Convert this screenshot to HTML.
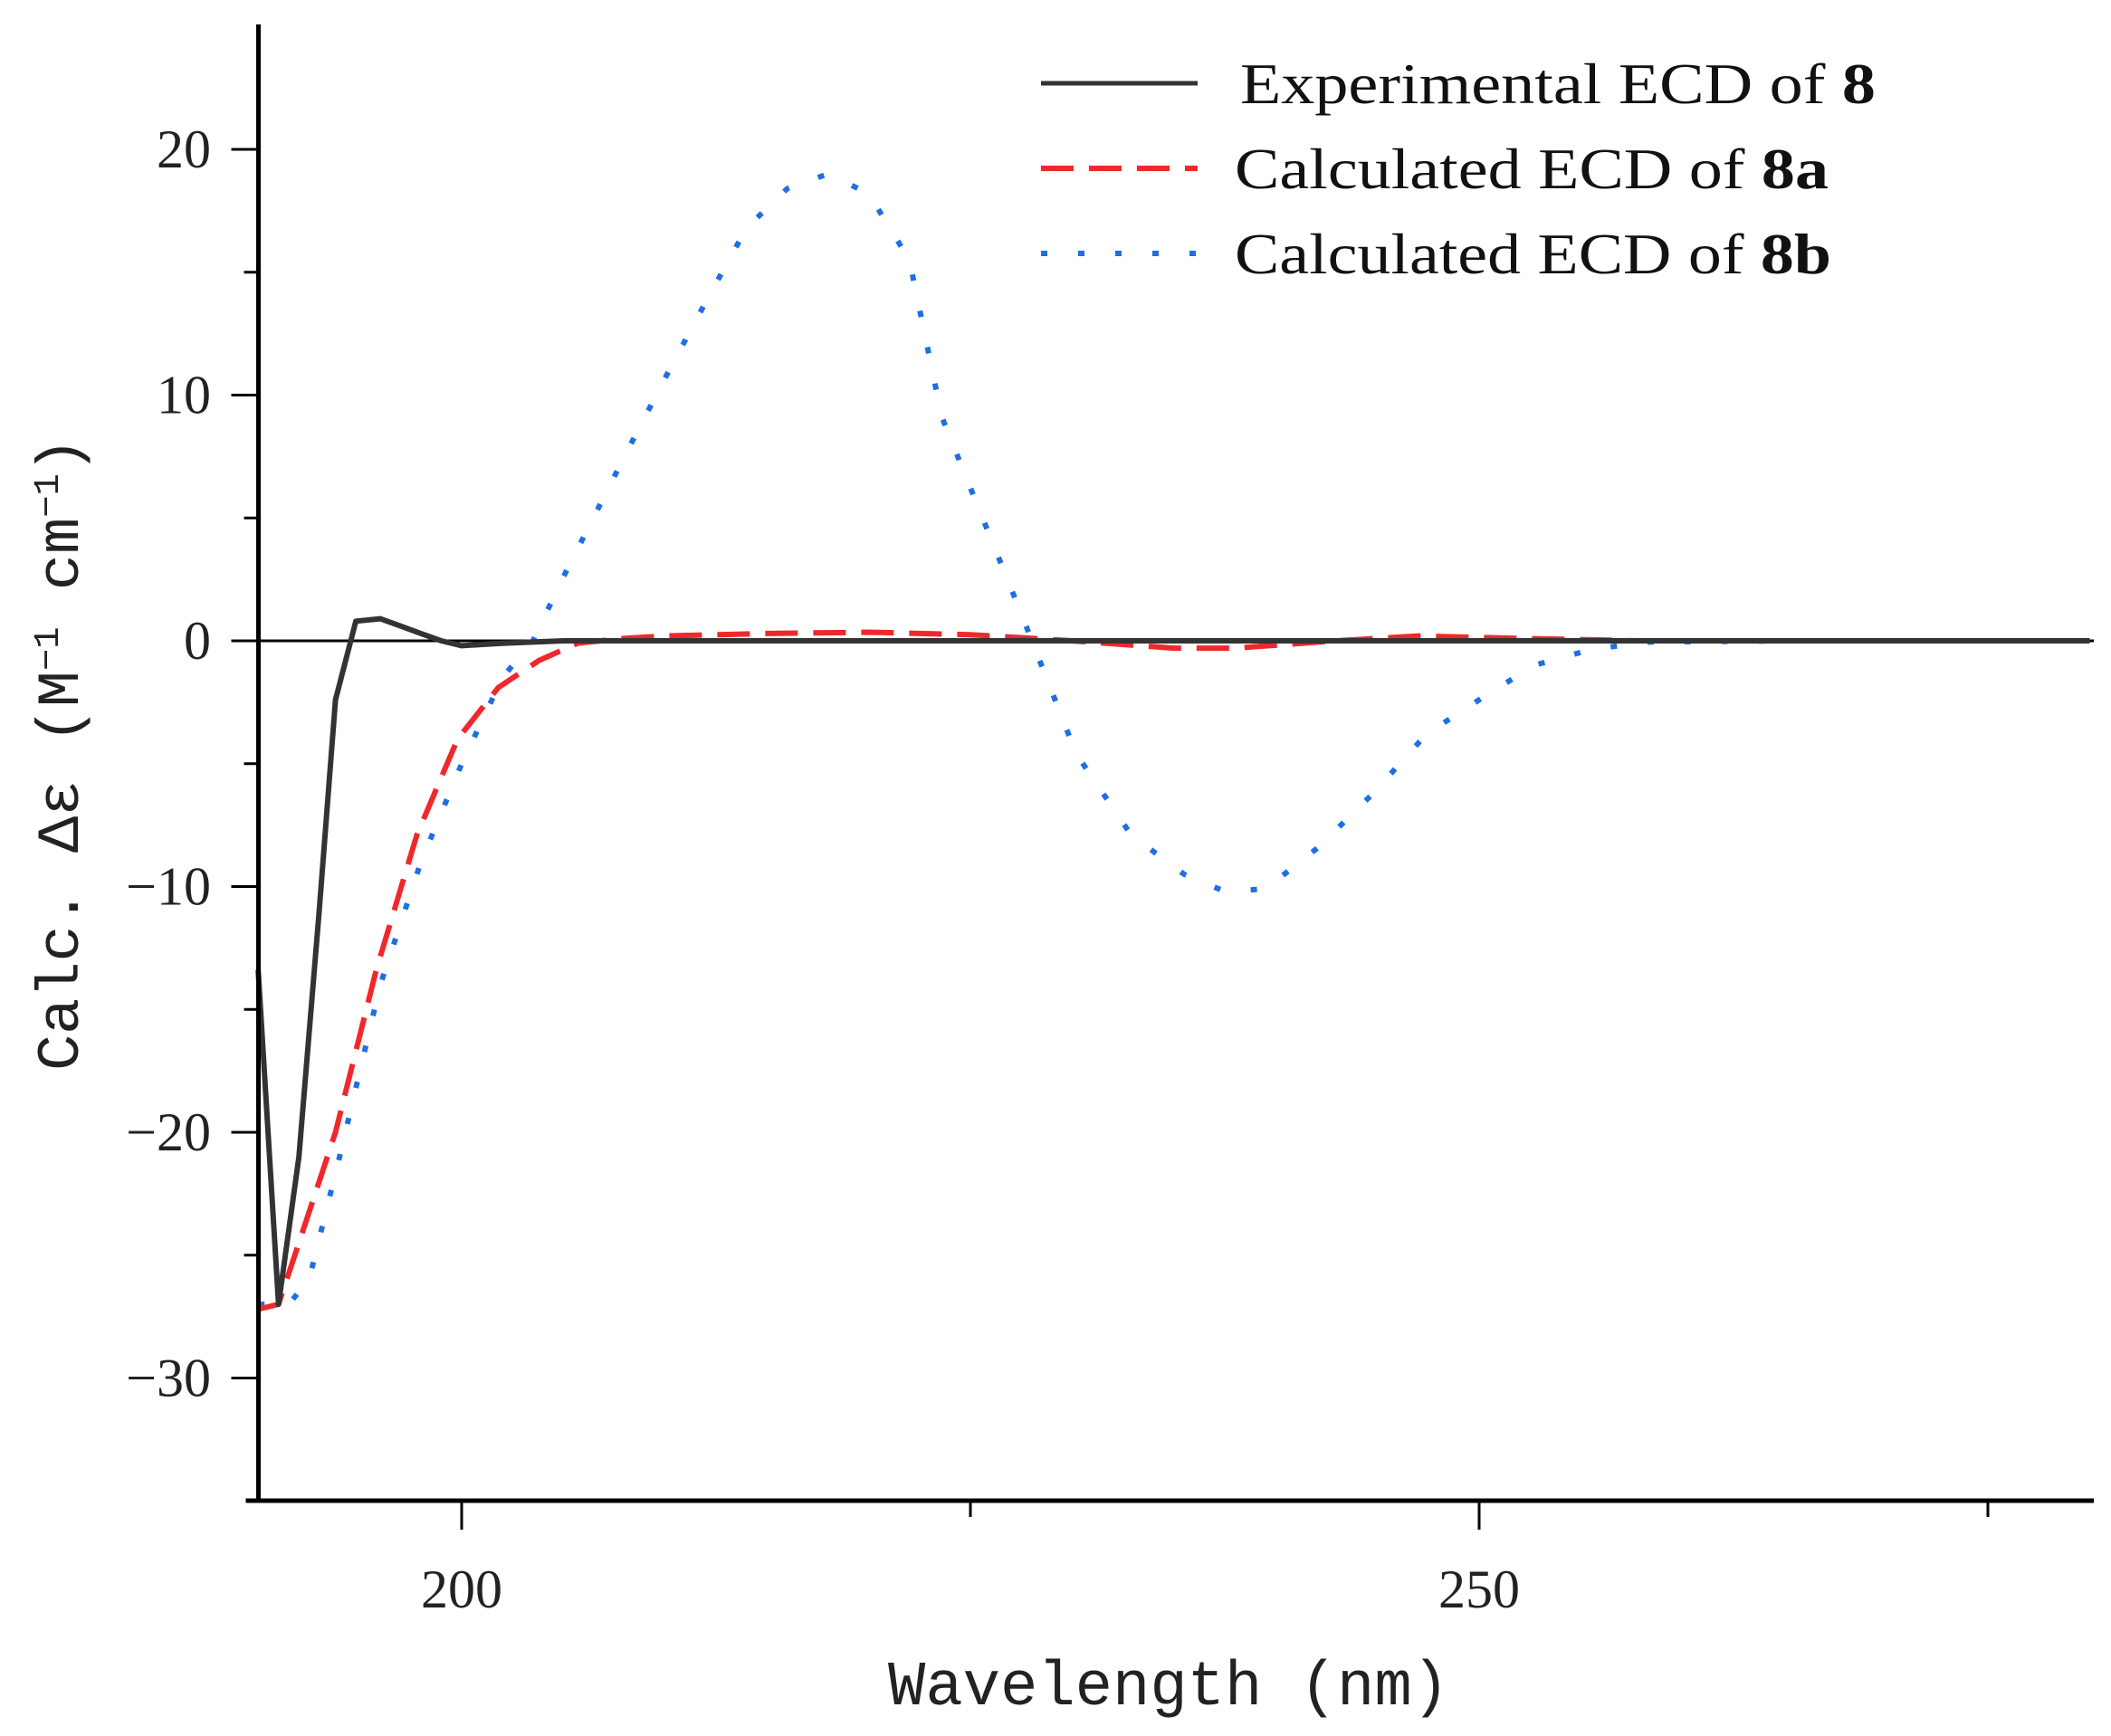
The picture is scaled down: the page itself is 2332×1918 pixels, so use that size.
<!DOCTYPE html>
<html><head><meta charset="utf-8"><style>
html,body{margin:0;padding:0;background:#fff;}
svg{display:block;}
</style></head><body>
<svg id="chart" width="2332" height="1918" viewBox="0 0 2332 1918" xmlns="http://www.w3.org/2000/svg">
<g id="plot"></g>
</svg>
<script>
const expX=[190,191,192,193,193.8,194.8,196,197,198,199,200,202,205,210,220,240,260,280];
const expY=[-13.4,-27,-21,-11,-2.4,0.8,0.9,0.6,0.3,0,-0.2,-0.1,0,0,0,0,0,0];
const aX=[190,191,192,193.8,195.8,197.8,199.8,201.8,203.8,205.7,208,210,215,220,225,230,235,238,243,247,252,258,270,280];
const aY=[-27.2,-27,-24.5,-20,-13.4,-7.9,-4,-1.9,-0.8,-0.1,0.1,0.2,0.3,0.35,0.25,0,-0.3,-0.3,0,0.2,0.1,0,0,0];
const bX=[190,191.5,192.5,194,196,198,200,202,203.5,205,208,210,212,214,216,218,220,222,223.6,227.6,230.2,232.9,235.5,237.5,239.5,242.1,244.8,247.4,250,252.7,255.3,258,265,280];
const bY=[-27,-27,-26,-21,-14,-9,-5,-1.5,0,2.6,7.5,10.7,13.8,16.8,18.4,19,18.2,15.5,9.1,0.9,-4.6,-7.9,-9.5,-10.2,-10.1,-8.4,-6.2,-3.8,-2.4,-1.0,-0.4,-0.05,0,0];
const yTicks=[20,10,0,-10,-20,-30];
const yMinor=[15,5,-5,-15,-25];
const xTicks=[200,250];
const xMinor=[225,275];
const legendLabels=[["Experimental ECD of ","8"],["Calculated ECD of ","8a"],["Calculated ECD of ","8b"]];

const X0=285.5,X1=2313,Y0=27,Y1=1658;
const sx=v=>510+(v-200)*(1634-510)/50;
const sy=v=>708-v*(708-165)/20;
const NS="http://www.w3.org/2000/svg";
const g=document.getElementById('plot');
function el(t,a,p){const e=document.createElementNS(NS,t);for(const k in a)e.setAttribute(k,a[k]);(p||g).appendChild(e);return e;}

let z=el('line',{x1:X0,x2:X1,y1:sy(0),y2:sy(0),stroke:'#000','stroke-width':3});



function series(xs,ys,attrs,name){
  let d='';xs.forEach((x,i)=>{d+=(i?'L':'M')+sx(x).toFixed(1)+','+sy(ys[i]).toFixed(1);});
  const p=el('path',Object.assign({d:d,fill:'none','stroke-linejoin':'round'},attrs));
  
  
}
const blueStyle={stroke:'#1f6fe0','stroke-width':6,'stroke-dasharray':'7 34'};
const redStyle={stroke:'#f0282c','stroke-width':6,'stroke-dasharray':'36 17'};
series(bX,bY,blueStyle,'series-8b-calculated');
series(aX,aY,redStyle,'series-8a-calculated');
series(expX,expY,{stroke:'#333','stroke-width':6},'series-8-experimental');

let ya=el('line',{x1:X0,x2:X0,y1:Y0,y2:Y1,stroke:'#000','stroke-width':5});

let xa=el('line',{x1:X0-14,x2:X1,y1:Y1,y2:Y1,stroke:'#000','stroke-width':5});


yTicks.forEach(v=>{
  const t=el('line',{x1:X0-30,x2:X0,y1:sy(v),y2:sy(v),stroke:'#000','stroke-width':3});
  
  const tx=el('text',{x:233,y:sy(v)+20,'text-anchor':'end','font-family':'Liberation Serif, serif','font-size':60,fill:'#222'});
  tx.textContent=v<0?'\u2212'+(-v):String(v);
  
});
yMinor.forEach(v=>{
  const t=el('line',{x1:X0-16,x2:X0,y1:sy(v),y2:sy(v),stroke:'#000','stroke-width':3});
  
});
xTicks.forEach(v=>{
  const t=el('line',{x1:sx(v),x2:sx(v),y1:Y1,y2:Y1+32,stroke:'#000','stroke-width':3});
  
  const tx=el('text',{x:sx(v),y:1776,'text-anchor':'middle','font-family':'Liberation Serif, serif','font-size':60,fill:'#222'});
  tx.textContent=String(v);
  
});
xMinor.forEach(v=>{
  const t=el('line',{x1:sx(v),x2:sx(v),y1:Y1,y2:Y1+18,stroke:'#000','stroke-width':3});
  
});

let xt=el('text',{x:1291,y:1883,'text-anchor':'middle','font-family':'Liberation Mono, monospace','font-size':70,fill:'#222',textLength:620,lengthAdjust:'spacingAndGlyphs'});
xt.textContent='Wavelength (nm)';

let yt=el('text',{x:0,y:0,'text-anchor':'middle','font-family':'Liberation Mono, monospace','font-size':66,fill:'#222',transform:'translate(86,833) rotate(-90)',textLength:700,lengthAdjust:'spacingAndGlyphs'});
yt.innerHTML='Calc. \u0394\u03b5 (M<tspan baseline-shift="super" font-size="40">\u22121</tspan> cm<tspan baseline-shift="super" font-size="40">\u22121</tspan>)';


const lg=el('g',{});

const ly=[92,186,280];
const lw=[702,656,659];
const lstyle=[{stroke:'#333','stroke-width':5},redStyle,blueStyle];
legendLabels.forEach((lab,i)=>{
  const l=el('line',Object.assign({x1:1150,x2:1323,y1:ly[i],y2:ly[i]},lstyle[i]),lg);
  
  const t=el('text',{x:i==0?1370:1364,y:ly[i]+22,'font-family':'Liberation Serif, serif','font-size':64,fill:'#111',textLength:lw[i],lengthAdjust:'spacingAndGlyphs'},lg);
  t.innerHTML=lab[0]+'<tspan font-weight="bold">'+lab[1]+'</tspan>';
  
});
</script>
</body></html>
